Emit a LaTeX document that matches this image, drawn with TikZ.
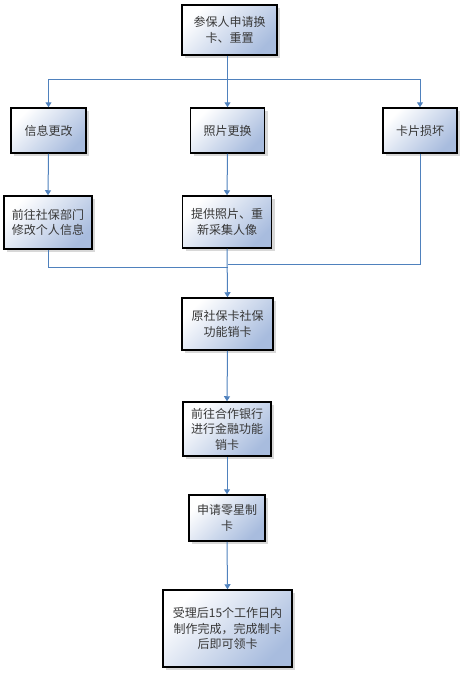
\documentclass[tikz,border=0pt]{standalone}
\usepackage{fontspec}
\newfontfamily\cjk{Noto Sans CJK SC}
\usetikzlibrary{arrows.meta,shadows}
\definecolor{boxblue}{RGB}{168,188,222}
\definecolor{linkblue}{RGB}{79,129,189}
\definecolor{txtgray}{RGB}{55,55,55}
\tikzset{
  flowbox/.style={draw=black, line width=1.5pt, shade, top color=white, bottom color=boxblue, shading angle=45,
    drop shadow={shadow xshift=3pt, shadow yshift=-3pt, fill=black!30, opacity=0.5},
    align=center, inner sep=1pt, font=\cjk\fontsize{12}{15.5}\selectfont, text=txtgray},
  link/.style={draw=linkblue, line width=1pt},
  arrowlink/.style={link, -{Triangle[width=6pt,length=5pt]}}
}
\begin{document}
\begin{tikzpicture}[x=1pt,y=-1pt]
\useasboundingbox (0,0) rectangle (467,677);
\node[flowbox, minimum width=95pt, minimum height=50pt] (top) at (229.5,30) {参保人申请换\\卡、重置};
\node[flowbox, minimum width=75pt, minimum height=45pt] (n1) at (48.5,130.5) {信息更改};
\node[flowbox, minimum width=74pt, minimum height=45pt] (n2) at (227.5,130.5) {照片更换};
\node[flowbox, minimum width=74pt, minimum height=45pt] (n3) at (420,130.5) {卡片损坏};
\node[flowbox, minimum width=88pt, minimum height=53pt] (n4) at (48,222.5) {前往社保部门\\修改个人信息};
\node[flowbox, minimum width=89pt, minimum height=52pt] (n5) at (227,222) {提供照片、重\\新采集人像};
\node[flowbox, minimum width=91pt, minimum height=52pt] (n6) at (227.5,324) {原社保卡社保\\功能销卡};
\node[flowbox, minimum width=88pt, minimum height=54pt] (n7) at (227,429) {前往合作银行\\进行金融功能\\销卡};
\node[flowbox, minimum width=76pt, minimum height=46pt] (n8) at (227,518) {申请零星制\\卡};
\node[flowbox, minimum width=129pt, minimum height=77pt] (n9) at (227.5,628.5) {受理后15个工作日内\\制作完成，完成制卡\\后即可领卡};
\coordinate (j1) at (227.5,79);
\coordinate (jl) at (227.5,267);
\coordinate (jr) at (227.5,264);
\draw[arrowlink] (top.south -| j1) -- (n2.north);
\draw[arrowlink] (j1) -| (n1.north);
\draw[arrowlink] (j1) -| (n3.north);
\draw[arrowlink] (n1.south) -- (n4.north);
\draw[arrowlink] (n2.south) -- (n5.north);
\draw[link] (n4.south) |- (jl);
\draw[link] (n3.south) |- (jr);
\draw[arrowlink] (n5.south) -- (n6.north);
\draw[arrowlink] (n6.south) -- (n7.north);
\draw[arrowlink] (n7.south) -- (n8.north);
\draw[arrowlink] (n8.south) -- (n9.north);
\end{tikzpicture}
\end{document}
